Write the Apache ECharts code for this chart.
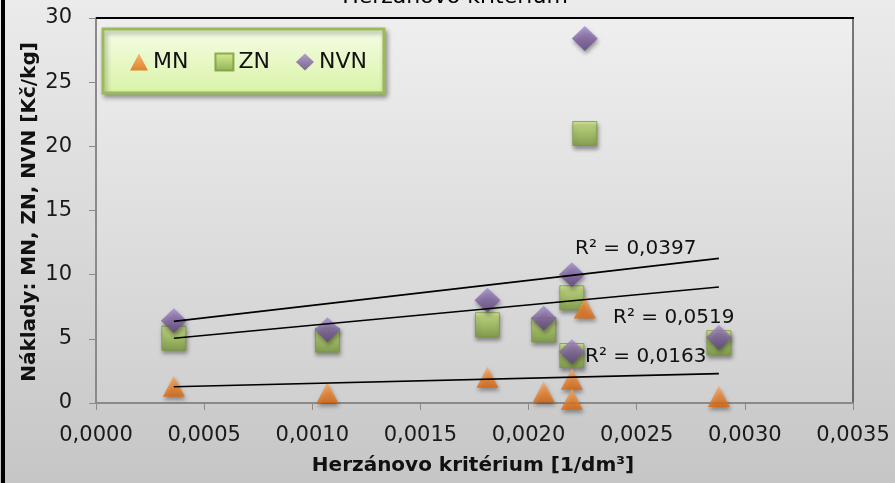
<!DOCTYPE html>
<html>
<head>
<meta charset="utf-8">
<script src="https://cdn.jsdelivr.net/npm/echarts@6/dist/echarts.min.js"></script>
<style>html,body{margin:0;padding:0;}#c{width:895px;height:483px;}</style>
</head>
<body>
<div id="c"></div>
<script>
// Herzánovo kritérium [1/dm³]
const xValues = [0.00036, 0.00107, 0.00181, 0.00207, 0.00220, 0.00220, 0.00226, 0.00288];
const mnValues = [1.3, 0.8, 2.0, 0.85, 1.85, 0.3, 7.4, 0.5];
const znValues = [5.05, 4.9, 6.1, 5.7, 8.2, 3.7, 21.0, 4.7];
const nvnValues = [6.4, 5.7, 8.0, 6.6, 10.0, 4.0, 28.4, 5.1];
const seriesNames = ['MN', 'ZN', 'NVN'];
const r2Labels = ['R² = 0,0163', 'R² = 0,0519', 'R² = 0,0397'];
const xTicks = [0, 0.0005, 0.0010, 0.0015, 0.0020, 0.0025, 0.0030, 0.0035];
const yTicks = [0, 5, 10, 15, 20, 25, 30];

const FONT = 'DejaVu Sans';

function pairs(ys) { return xValues.map((x, i) => [x, ys[i]]); }
function trend(ys) {
  const n = xValues.length;
  const mx = xValues.reduce((a, b) => a + b, 0) / n;
  const my = ys.reduce((a, b) => a + b, 0) / n;
  let sxy = 0, sxx = 0;
  for (let i = 0; i < n; i++) { sxy += (xValues[i] - mx) * (ys[i] - my); sxx += (xValues[i] - mx) ** 2; }
  const b = sxy / sxx, a = my - b * mx;
  const x0 = Math.min(...xValues), x1 = Math.max(...xValues);
  return [[x0, a + b * x0], [x1, a + b * x1]];
}
function grad(c1, c2) {
  return new echarts.graphic.LinearGradient(0, 0, 0, 1, [{offset: 0, color: c1}, {offset: 1, color: c2}]);
}
function grad3(c1, c2, c3) {
  return new echarts.graphic.LinearGradient(0, 0, 0, 1, [{offset: 0, color: c1}, {offset: 0.5, color: c2}, {offset: 1, color: c3}]);
}
const shadow = {shadowBlur: 4, shadowOffsetX: 1, shadowOffsetY: 3, shadowColor: 'rgba(0,0,0,0.45)'};

const chart = echarts.init(document.getElementById('c'), null, {renderer: 'canvas'});
const trendStyle = {color: '#000', width: 1.6};
chart.setOption({
  animation: false,
  backgroundColor: grad('#ebebeb', '#c6c6c6'),
  grid: {left: 96, right: 42, top: 18, bottom: 80, show: true,
    backgroundColor: grad('#efefef', '#d0d0d0'), borderColor: '#000', borderWidth: 1},
  xAxis: {
    type: 'value', min: 0, max: 0.0035, interval: 0.0005,
    axisLine: {show: true, lineStyle: {color: '#8a8a8a', width: 2}},
    axisTick: {show: true, length: 7, lineStyle: {color: '#8a8a8a', width: 1}},
    axisLabel: {margin: 22, fontFamily: FONT, fontSize: 21, color: '#1a1a1a',
      formatter: v => v.toFixed(4).replace('.', ',')},
    splitLine: {show: false}
  },
  yAxis: {
    type: 'value', min: 0, max: 30, interval: 5,
    axisLine: {show: true, lineStyle: {color: '#8a8a8a', width: 2}},
    axisTick: {show: true, length: 7, lineStyle: {color: '#8a8a8a', width: 1}},
    axisLabel: {margin: 24, fontFamily: FONT, fontSize: 21, color: '#1a1a1a'},
    splitLine: {show: false}
  },
  legend: {
    data: seriesNames,
    left: 103, top: 29, orient: 'horizontal',
    padding: [22, 17, 20, 27],
    itemWidth: 18, itemHeight: 17, itemGap: 26,
    backgroundColor: grad('#f6fde8', '#d9f3a6'),
    borderColor: '#9bbb59', borderWidth: 3,
    shadowBlur: 5, shadowOffsetX: 2, shadowOffsetY: 3, shadowColor: 'rgba(0,0,0,0.35)',
    textStyle: {fontFamily: FONT, fontSize: 22, color: '#111'}
  },
  series: [
    {name: 'MN', type: 'scatter', symbol: 'triangle', symbolSize: [22, 21], z: 3,
      itemStyle: Object.assign({color: grad('#fba65a', '#dd660a')}, shadow), data: pairs(mnValues)},
    {name: 'ZN', type: 'scatter', symbol: 'rect', symbolSize: 24, z: 2,
      itemStyle: Object.assign({color: grad3('#d3ec86', '#a6c65e', '#7e9f3e'), borderColor: '#789a3a', borderWidth: 1}, shadow), data: pairs(znValues)},
    {name: 'NVN', type: 'scatter', symbol: 'diamond', symbolSize: [26, 25], z: 4,
      itemStyle: Object.assign({color: grad3('#a48ccb', '#8064a2', '#5e447f')}, shadow), data: pairs(nvnValues)},
    {name: 'MN trend', type: 'line', symbol: 'none', z: 6, lineStyle: trendStyle, data: trend(mnValues), silent: true},
    {name: 'ZN trend', type: 'line', symbol: 'none', z: 6, lineStyle: trendStyle, data: trend(znValues), silent: true},
    {name: 'NVN trend', type: 'line', symbol: 'none', z: 6, lineStyle: trendStyle, data: trend(nvnValues), silent: true}
  ],
  graphic: [
    {type: 'rect', shape: {x: 1, y: 0, width: 4, height: 483}, style: {fill: '#000'}, z: 100},
    {type: 'rect', shape: {x: 96, y: 17, width: 758, height: 2}, style: {fill: '#000'}, z: 100},
    {type: 'text', x: 455, y: -3, z: 100,
      style: {text: 'Herzánovo kritérium', font: '22px "DejaVu Sans"', fill: '#000', align: 'center', verticalAlign: 'middle'}},
    {type: 'text', x: 473, y: 466, z: 100,
      style: {text: 'Herzánovo kritérium [1/dm³]', font: 'bold 20px "DejaVu Sans"', fill: '#111', align: 'center', verticalAlign: 'middle'}},
    {type: 'text', x: 30, y: 212, rotation: Math.PI / 2, z: 100,
      style: {text: 'Náklady: MN, ZN, NVN [Kč/kg]', font: 'bold 20px "DejaVu Sans"', fill: '#111', align: 'center', verticalAlign: 'middle'}},
    {type: 'text', x: 575, y: 249, z: 100,
      style: {text: r2Labels[2], font: '20px "DejaVu Sans"', fill: '#111', align: 'left', verticalAlign: 'middle'}},
    {type: 'text', x: 613, y: 318, z: 100,
      style: {text: r2Labels[1], font: '20px "DejaVu Sans"', fill: '#111', align: 'left', verticalAlign: 'middle'}},
    {type: 'text', x: 585, y: 357, z: 100,
      style: {text: r2Labels[0], font: '20px "DejaVu Sans"', fill: '#111', align: 'left', verticalAlign: 'middle'}}
  ]
});
</script>
</body>
</html>
